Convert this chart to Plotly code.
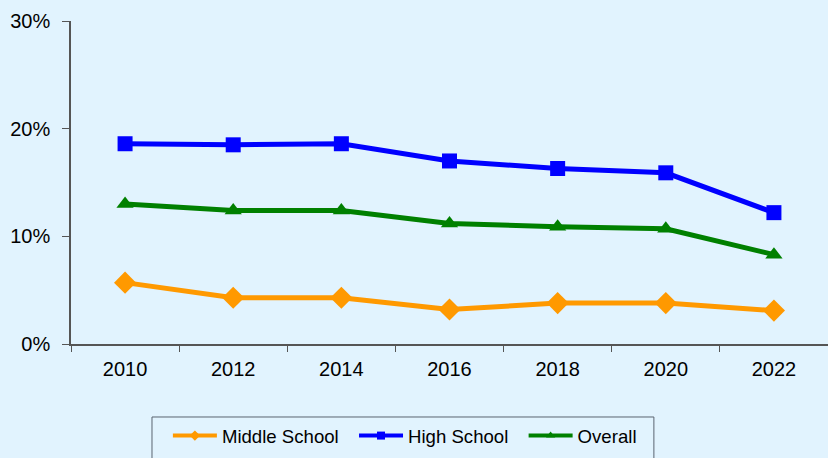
import plotly.graph_objects as go

years = ["2010", "2012", "2014", "2016", "2018", "2020", "2022"]
middle_school = [5.7, 4.3, 4.3, 3.2, 3.8, 3.8, 3.1]
high_school = [18.6, 18.5, 18.6, 17.0, 16.3, 15.9, 12.2]
overall = [13.0, 12.4, 12.4, 11.2, 10.9, 10.7, 8.3]
series_names = ["Middle School", "High School", "Overall"]
y_ticks = [0, 10, 20, 30]
y_tick_labels = ["0%", "10%", "20%", "30%"]

colors = ["#FF9900", "#0000FF", "#008000"]
symbols = ["diamond", "square", "triangle-up"]
sizes = [17, 15, 15]
bg = "#E1F3FE"

fig = go.Figure()
for name, vals, c, s, sz in zip(series_names, [middle_school, high_school, overall], colors, symbols, sizes):
    fig.add_trace(go.Scatter(x=years, y=vals, name=name, mode="lines+markers", showlegend=False,
                             line=dict(color=c, width=5),
                             marker=dict(symbol=s, size=sz, color=c)))
# legend-only entries with small markers (as in reference legend)
for i, (name, c, s) in enumerate(zip(series_names, colors, symbols)):
    pad = "\u00a0\u00a0" if i < 2 else ""
    fig.add_trace(go.Scatter(x=[None], y=[None], name=name + pad, mode="lines+markers",
                             line=dict(color=c, width=4),
                             marker=dict(symbol=s, size=8, color=c)))

# legend frame
fig.add_shape(type="rect", xref="paper", yref="paper", x0=0.107, x1=0.770, y0=-0.226, y1=-0.45,
              line=dict(color="#5A6470", width=1), fillcolor=bg, layer="below")

fig.update_layout(
    width=828, height=458,
    margin=dict(l=71, r=0, t=21, b=114),
    paper_bgcolor=bg, plot_bgcolor=bg,
    font=dict(family="Arial, Liberation Sans, sans-serif", size=20, color="#000000"),
    showlegend=True,
    legend=dict(orientation="h", x=0.128, xanchor="left", y=-0.226, yanchor="top",
                bgcolor="rgba(0,0,0,0)", borderwidth=0,
                font=dict(size=18.6), itemwidth=44, tracegroupgap=0),
    xaxis=dict(type="category", range=[-0.5, 6.5], showgrid=False, showline=True,
               linecolor="#555555", linewidth=1.5, ticks="outside", tickson="boundaries",
               ticklen=6, tickcolor="#555555", zeroline=False, ticklabelstandoff=6),
    yaxis=dict(range=[0, 30], tickvals=y_ticks, ticktext=y_tick_labels, showgrid=False,
               showline=True, linecolor="#555555", linewidth=1.5, ticks="outside",
               ticklen=7, tickcolor="#555555", zeroline=False, ticklabelstandoff=8),
)
fig.write_html("out.html", config={"displayModeBar": False},
               post_script="document.body.style.margin='0';document.body.style.background='#E1F3FE';")
